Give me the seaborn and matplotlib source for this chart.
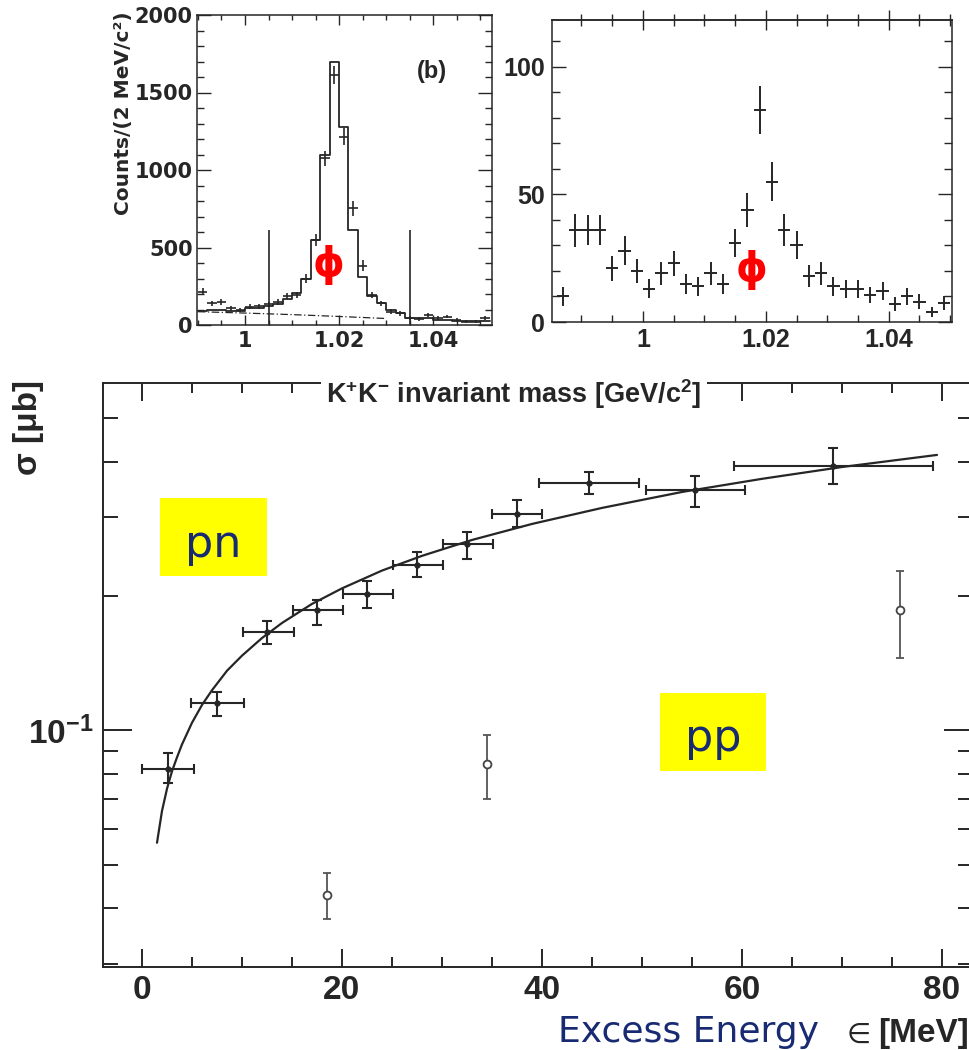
import matplotlib
matplotlib.use("Agg")
import matplotlib.pyplot as plt
import numpy as np
import pandas as pd
import seaborn as sns
from matplotlib.ticker import FixedLocator, MultipleLocator, NullFormatter, FixedFormatter, FuncFormatter
from matplotlib.patches import Rectangle

# ---------------- (b) K+K- invariant mass, 2 MeV bins ----------------
mass_edges = [0.990, 0.992, 0.994, 0.996, 0.998, 1.000, 1.002, 1.004, 1.006, 1.008,
              1.010, 1.012, 1.014, 1.016, 1.018, 1.020, 1.022, 1.024, 1.026, 1.028,
              1.030, 1.032, 1.034, 1.036, 1.038, 1.040, 1.042, 1.044, 1.046, 1.048,
              1.050, 1.052]
sim_counts = [92, 95, 95, 90, 88, 108, 112, 120, 135, 170,
              205, 300, 548, 1100, 1700, 1275, 615, 310, 185, 140,
              100, 78, 45, 42, 45, 30, 30, 28, 25, 25, 28]
data_centers = [0.991, 0.993, 0.995, 0.997, 0.999, 1.001, 1.003, 1.005, 1.007, 1.009,
                1.011, 1.013, 1.015, 1.017, 1.019, 1.021, 1.023, 1.025, 1.027, 1.029,
                1.031, 1.033, 1.035, 1.037, 1.039, 1.041, 1.043, 1.045, 1.047, 1.049,
                1.051]
data_counts = [215, 140, 150, 107, 97, 118, 122, 133, 150, 187,
               193, 300, 548, 1075, 1612, 1215, 752, 383, 193, 140,
               86, 75, 43, 37, 65, 43, 54, 32, 22, 22, 43]
data_errors = [22, 18, 18, 16, 15, 16, 16, 17, 18, 20,
               20, 28, 38, 50, 60, 55, 46, 34, 22, 18,
               15, 14, 12, 12, 13, 12, 12, 11, 10, 10, 12]
bkg_mass = [0.990, 1.000, 1.010, 1.020, 1.030]
bkg_counts = [86, 77, 67, 55, 42]
cut_mass = [1.005, 1.035]
cut_height = 610

# ---------------- pp side: K+K- invariant mass ----------------
pp_mass = [0.987, 0.989, 0.991, 0.993, 0.995, 0.997, 0.999, 1.001, 1.003, 1.005,
           1.007, 1.009, 1.011, 1.013, 1.015, 1.017, 1.019, 1.021, 1.023, 1.025,
           1.027, 1.029, 1.031, 1.033, 1.035, 1.037, 1.039, 1.041, 1.043, 1.045,
           1.047, 1.049]
pp_counts = [10, 36, 36, 36, 21, 28, 20, 13, 19, 23,
             15, 14, 19, 15, 31, 44, 83, 55, 36, 30,
             18, 19, 14, 13, 13, 10.5, 12, 7, 10, 8,
             4, 7.5]
pp_errors = [3.6, 6.5, 6.0, 6.0, 5.0, 5.5, 4.6, 3.7, 4.4, 4.8,
             3.9, 3.8, 4.4, 3.9, 5.6, 6.6, 9.3, 7.6, 6.3, 5.5,
             4.3, 4.4, 3.7, 3.6, 3.6, 3.2, 3.5, 2.6, 3.2, 2.8,
             2.0, 2.7]

# ---------------- cross sections vs excess energy ----------------
pn_eps = [2.6, 7.5, 12.5, 17.5, 22.5, 27.5, 32.5, 37.5, 44.7, 55.3, 69.1]
pn_sigma = [0.0821, 0.115, 0.166, 0.186, 0.202, 0.235, 0.262, 0.305, 0.359, 0.345, 0.392]
pn_eps_lo = [0.0, 4.9, 10.1, 15.1, 20.1, 25.1, 30.1, 35.0, 39.7, 50.4, 59.2]
pn_eps_hi = [5.2, 10.2, 15.2, 20.1, 25.1, 30.1, 35.1, 40.0, 49.7, 60.3, 79.1]
pn_sig_lo = [0.0762, 0.1075, 0.156, 0.172, 0.188, 0.220, 0.242, 0.285, 0.339, 0.317, 0.357]
pn_sig_hi = [0.0890, 0.1218, 0.176, 0.196, 0.216, 0.251, 0.278, 0.328, 0.379, 0.371, 0.428]

ppx_eps = [18.5, 34.5, 75.8]
ppx_sigma = [0.0427, 0.0839, 0.186]
ppx_sig_lo = [0.0377, 0.0703, 0.145]
ppx_sig_hi = [0.0478, 0.0974, 0.227]

fit_eps = [1.5, 2.0, 2.5, 3.0, 3.5, 4.0, 5.0, 6.0, 7.0, 8.5, 10, 12, 14, 17, 20,
           24, 28, 33, 39, 46, 54, 62, 70, 79.5]
fit_sigma = [0.056, 0.066, 0.074, 0.081, 0.087, 0.093, 0.104, 0.114, 0.123, 0.136,
             0.147, 0.161, 0.174, 0.192, 0.208, 0.228, 0.246, 0.267, 0.290, 0.315,
             0.342, 0.366, 0.389, 0.414]

# ---------------- style ----------------
sns.set_theme(style="ticks")
plt.rcParams["font.family"] = ["Liberation Sans", "DejaVu Sans"]
plt.rcParams["mathtext.fontset"] = "custom"
plt.rcParams["mathtext.rm"] = "Liberation Sans:bold"
plt.rcParams["mathtext.bf"] = "Liberation Sans:bold"
plt.rcParams["mathtext.default"] = "bf"

INK = "#262626"
NAVY = "#182a72"
W, H = 969, 1050

fig = plt.figure(figsize=(W / 100, H / 100), dpi=100)


def frac_box(x0, y0, x1, y1):
    return [x0 / W, 1 - y1 / H, (x1 - x0) / W, (y1 - y0) / H]


ax_b = fig.add_axes(frac_box(197, 15, 492, 325))
ax_c = fig.add_axes(frac_box(552, 20, 952, 322))
ax = fig.add_axes(frac_box(103, 383, 973, 967))

for a, lw in ((ax_b, 1.1), (ax_c, 1.1), (ax, 1.4)):
    for s in a.spines.values():
        s.set_visible(True)
        s.set_color(INK)
        s.set_linewidth(lw)
    a.set_facecolor("white")

# ---- panel (b) ----
hist_df = pd.DataFrame({"m": mass_edges, "n": sim_counts + [sim_counts[-1]]})
sns.lineplot(data=hist_df, x="m", y="n", drawstyle="steps-post", estimator=None,
             color=INK, lw=1.3, ax=ax_b)
sns.lineplot(x=bkg_mass, y=bkg_counts, color=INK, lw=0.9,
             linestyle=(0, (6, 2, 1, 2)), ax=ax_b)
ax_b.errorbar(data_centers, data_counts, xerr=0.001, yerr=data_errors, fmt="none",
              ecolor=INK, elinewidth=1.2, capsize=0)
ax_b.vlines(cut_mass, 0, cut_height, color=INK, lw=1.2)
ax_b.set_xlim(0.9898, 1.0525)
ax_b.set_ylim(0, 2000)
ax_b.xaxis.set_major_locator(FixedLocator([1.00, 1.02, 1.04]))
ax_b.xaxis.set_major_formatter(FuncFormatter(lambda v, p: f"{v:g}"))
ax_b.xaxis.set_minor_locator(MultipleLocator(0.005))
ax_b.yaxis.set_major_locator(MultipleLocator(500))
ax_b.yaxis.set_minor_locator(MultipleLocator(100))
ax_b.tick_params(which="both", direction="in", top=True, right=True, color=INK, width=1)
ax_b.tick_params(axis="x", which="major", length=7, pad=4)
ax_b.tick_params(axis="x", which="minor", length=3.6)
ax_b.tick_params(axis="y", which="major", length=10, pad=3)
ax_b.tick_params(axis="y", which="minor", length=5)
for lab in ax_b.get_xticklabels() + ax_b.get_yticklabels():
    lab.set_fontfamily("DejaVu Sans")
    lab.set_fontweight("bold")
    lab.set_fontsize(15)
    lab.set_color(INK)
ax_b.set_xlabel("")
ax_b.set_ylabel("")
ax_b.text(1.0397, 1634, "(b)", fontsize=17, fontweight="bold", color=INK,
          ha="center", va="center")
ax_b.text(1.0177, 387, "ϕ", fontsize=29, fontweight="bold", color="red",
          family="DejaVu Sans", ha="center", va="center")
fig.text(124 / W, 1 - 113 / H, "Counts/(2 MeV/c²)", rotation=90, fontsize=14.5,
         fontweight="bold", family="DejaVu Sans", color=INK, ha="center", va="center")

# ---- pp mass panel ----
ax_c.errorbar(pp_mass, pp_counts, xerr=0.001, yerr=pp_errors, fmt="none",
              ecolor=INK, elinewidth=1.4, capsize=0)
ax_c.set_xlim(0.9852, 1.0503)
ax_c.set_ylim(0, 118.3)
ax_c.xaxis.set_major_locator(FixedLocator([1.00, 1.02, 1.04]))
ax_c.xaxis.set_major_formatter(FuncFormatter(lambda v, p: f"{v:g}"))
ax_c.xaxis.set_minor_locator(MultipleLocator(0.005))
ax_c.yaxis.set_major_locator(MultipleLocator(50))
ax_c.yaxis.set_minor_locator(MultipleLocator(10))
ax_c.tick_params(which="both", direction="in", top=False, right=True, color=INK, width=1)
ax_c.tick_params(axis="x", which="major", length=8, pad=4)
ax_c.tick_params(axis="x", which="minor", length=5)
ax_c.tick_params(axis="y", which="major", length=10, pad=5)
ax_c.tick_params(axis="y", which="minor", length=6)
for lab in ax_c.get_xticklabels() + ax_c.get_yticklabels():
    lab.set_fontweight("bold")
    lab.set_fontsize(18)
    lab.set_color(INK)
sec = ax_c.secondary_xaxis("top")
sec.xaxis.set_major_locator(FixedLocator([1.00, 1.02, 1.04]))
sec.xaxis.set_minor_locator(MultipleLocator(0.005))
sec.xaxis.set_major_formatter(NullFormatter())
sec.tick_params(which="both", direction="inout", color=INK, width=1)
sec.tick_params(which="major", length=15)
sec.tick_params(which="minor", length=8)
sec.spines["top"].set_color(INK)
sec.spines["top"].set_linewidth(1.1)
ax_c.set_xlabel("")
ax_c.set_ylabel("")
ax_c.text(1.0177, 20.5, "ϕ", fontsize=29, fontweight="bold", color="red",
          family="DejaVu Sans", ha="center", va="center")

# ---- cross sections ----
pn_xerr = [np.subtract(pn_eps, pn_eps_lo), np.subtract(pn_eps_hi, pn_eps)]
pn_yerr = [np.subtract(pn_sigma, pn_sig_lo), np.subtract(pn_sig_hi, pn_sigma)]
pp_yerr = [np.subtract(ppx_sigma, ppx_sig_lo), np.subtract(ppx_sig_hi, ppx_sigma)]

sns.lineplot(x=fit_eps, y=fit_sigma, sort=False, estimator=None, color=INK, lw=1.6, ax=ax)
ax.errorbar(pn_eps, pn_sigma, xerr=pn_xerr, yerr=pn_yerr, fmt="none", ecolor=INK,
            elinewidth=1.5, capsize=3.4, capthick=1.5, zorder=3)
sns.scatterplot(x=pn_eps, y=pn_sigma, color=INK, s=16, edgecolor=INK, linewidth=0.5,
                zorder=4, ax=ax)
ax.errorbar(ppx_eps, ppx_sigma, yerr=pp_yerr, fmt="none", ecolor="#555555",
            elinewidth=1.3, capsize=3, capthick=1.3, zorder=3)
sns.scatterplot(x=ppx_eps, y=ppx_sigma, marker="o", facecolor="white",
                edgecolor="#444444", linewidth=1.3, s=32, zorder=4, ax=ax)

ax.set_yscale("log")
ax.set_xlim(-3.9, 83.1)
ax.set_ylim(0.0295, 0.6)
ax.xaxis.set_major_locator(MultipleLocator(20))
ax.xaxis.set_minor_locator(MultipleLocator(5))
ax.yaxis.set_major_locator(FixedLocator([0.1]))
ax.yaxis.set_major_formatter(FixedFormatter([r"$10^{-1}$"]))
ax.yaxis.set_minor_locator(FixedLocator([0.03, 0.04, 0.05, 0.06, 0.07, 0.08, 0.09,
                                         0.2, 0.3, 0.4, 0.5]))
ax.yaxis.set_minor_formatter(NullFormatter())
ax.tick_params(which="both", direction="in", top=True, right=True, color=INK, width=1.4)
ax.tick_params(axis="x", which="major", length=13, pad=6)
ax.tick_params(axis="x", which="minor", length=7)
ax.tick_params(axis="y", which="major", length=21, pad=7)
ax.tick_params(axis="y", which="minor", length=10.5)
for lab in ax.get_xticklabels() + ax.get_yticklabels():
    lab.set_fontweight("bold")
    lab.set_fontsize(24)
    lab.set_color(INK)
ax.set_xlabel("")
ax.set_ylabel("")

fig.text(29 / W, 1 - 428 / H, "σ [μb]", rotation=90, fontsize=24, fontweight="bold",
         color=INK, ha="center", va="center")
fig.text(514 / W, 1 - 394 / H, r"K$^{+}$K$^{-}$ invariant mass [GeV/c$^{2}$]",
         fontsize=19.5, fontweight="bold", color=INK, ha="center", va="center",
         bbox=dict(facecolor="white", edgecolor="none", pad=4), zorder=10)

# channel tags
for (x0, y0, x1, y1), tag, base in (((160, 498, 267, 576), "pn", 557),
                                    ((660, 693, 766, 771), "pp", 751)):
    fig.add_artist(Rectangle((x0 / W, 1 - y1 / H), (x1 - x0) / W, (y1 - y0) / H,
                             transform=fig.transFigure, facecolor="#ffff00",
                             edgecolor="none", zorder=8))
    fig.text((x0 + x1) / 2 / W, 1 - base / H, tag, fontsize=32, family="DejaVu Sans",
             color=NAVY, ha="center", va="baseline", zorder=9)

fig.text(558 / W, 1 - 1042 / H, "Excess Energy", fontsize=26, family="DejaVu Sans",
         color=NAVY, ha="left", va="baseline")
fig.text(847 / W, 1 - 1043 / H, "∈", fontsize=20, family="DejaVu Sans", color=INK,
         ha="left", va="baseline")
fig.text(878 / W, 1 - 1042 / H, "[MeV]", fontsize=24, fontweight="bold", color=INK,
         ha="left", va="baseline")

fig.savefig("out.png", dpi=100)
